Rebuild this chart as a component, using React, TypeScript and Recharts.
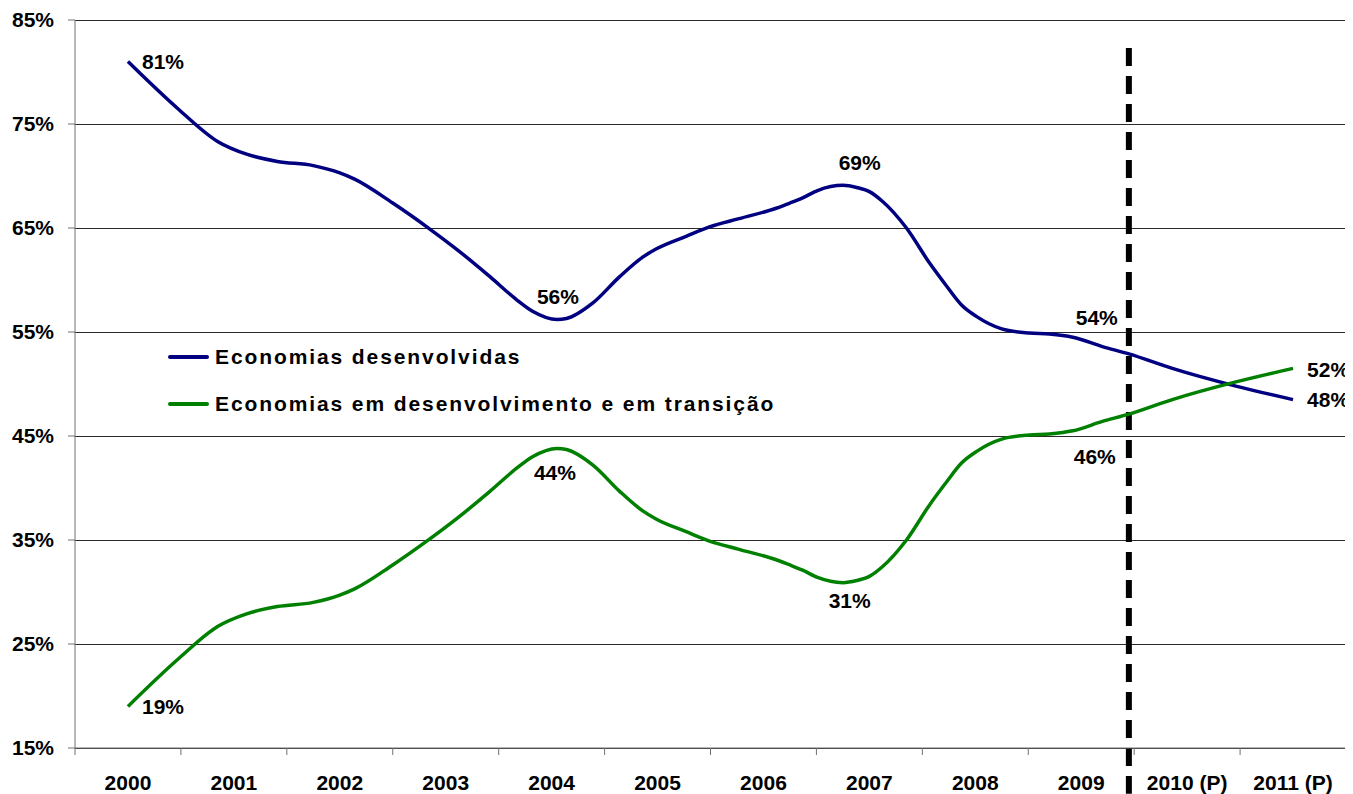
import React from "react";
import {
  LineChart,
  Line,
  XAxis,
  YAxis,
  CartesianGrid,
  ReferenceLine,
  Legend,
} from "recharts";

// categorias do eixo x
const anos = [
  "2000", "2001", "2002", "2003", "2004", "2005",
  "2006", "2007", "2008", "2009", "2010 (P)", "2011 (P)",
];

// posição de cada ponto no eixo (em anos, 0 = início de 2000)
const posicao = [
  0.5, 0.99, 1.35, 1.62, 1.91, 2.25, 2.5, 2.64, 3.0, 3.35,
  3.61, 3.92, 4.17, 4.32, 4.55, 4.64, 4.89, 5.14, 5.36, 5.49,
  5.77, 5.99, 6.27, 6.62, 6.75, 6.87, 7.01, 7.25, 7.38, 7.5,
  7.62, 7.85, 8.07, 8.23, 8.37, 8.51, 8.75, 9.01, 9.2, 9.42,
  9.7, 9.95, 10.36, 10.96, 11.5,
];

const desenvolvidas = [
  81.0, 76.3, 73.3, 72.1, 71.4, 71.0, 70.3, 69.7, 67.4, 64.9,
  62.9, 60.3, 58.1, 57.0, 56.2, 56.3, 57.8, 60.3, 62.2, 63.0,
  64.2, 65.1, 65.9, 66.9, 67.4, 67.9, 68.6, 69.1, 68.9, 68.5,
  67.6, 65.0, 61.6, 59.4, 57.6, 56.5, 55.3, 54.9, 54.8, 54.5,
  53.6, 52.9, 51.5, 49.8, 48.5,
];

const emDesenvolvimento = [
  19.0, 23.7, 26.7, 27.9, 28.6, 29.0, 29.7, 30.3, 32.6, 35.1,
  37.1, 39.7, 41.9, 43.0, 43.8, 43.7, 42.2, 39.7, 37.8, 37.0,
  35.8, 34.9, 34.1, 33.1, 32.6, 32.1, 31.4, 30.9, 31.1, 31.5,
  32.4, 35.0, 38.4, 40.6, 42.4, 43.5, 44.7, 45.1, 45.2, 45.5,
  46.4, 47.1, 48.5, 50.2, 51.5,
];

const yTicks = [15, 25, 35, 45, 55, 65, 75, 85];
const xTicks = [0, 1, 2, 3, 4, 5, 6, 7, 8, 9, 10, 11, 12];

// rótulos de dados: índice do ponto, texto e deslocamento
const rotulosDesenv = [
  { i: 0, text: "81%", dx: 14, dy: 0, anchor: "start" },
  { i: 14, text: "56%", dx: 1, dy: -23, anchor: "middle" },
  { i: 28, text: "69%", dx: 3, dy: -25, anchor: "middle" },
  { i: 39, text: "54%", dx: 24, dy: -20, anchor: "middle" },
  { i: 44, text: "48%", dx: 14, dy: 0, anchor: "start" },
];
const rotulosEmDesenv = [
  { i: 0, text: "19%", dx: 14, dy: 0, anchor: "start" },
  { i: 14, text: "44%", dx: -2, dy: 24, anchor: "middle" },
  { i: 28, text: "31%", dx: -7, dy: 20, anchor: "middle" },
  { i: 39, text: "46%", dx: 22, dy: 26, anchor: "middle" },
  { i: 44, text: "52%", dx: 14, dy: 1, anchor: "start" },
];

const data = posicao.map((t, i) => ({
  t,
  dev: desenvolvidas[i],
  emd: emDesenvolvimento[i],
}));

const FONT = '"Liberation Sans", Arial, Helvetica, sans-serif';
const W = 1345;
const H = 786;
const margin = { top: 12, right: 7, bottom: 0, left: 0 };
const Y_AXIS_W = 67;
const band = (W - margin.left - margin.right - Y_AXIS_W) / anos.length;

const YearTick = (props: any) => {
  const { x, y, payload } = props;
  const label = anos[payload.value];
  if (label === undefined) return <g />;
  return (
    <text
      x={x + band / 2}
      y={y}
      dy="0.71em"
      textAnchor="middle"
      fontFamily={FONT}
      fontWeight={700}
      fontSize={21}
      fill="#000"
    >
      {label}
    </text>
  );
};

const labelDot = (rotulos: any[]) => (props: any) => {
  const { cx, cy, index } = props;
  const r = rotulos.find((l) => l.i === index);
  if (!r) return <g key={`d-${index}`} />;
  return (
    <text
      key={`d-${index}`}
      x={cx + r.dx}
      y={cy + r.dy}
      dy="0.36em"
      textAnchor={r.anchor}
      fontFamily={FONT}
      fontWeight={700}
      fontSize={21}
      fill="#000"
    >
      {r.text}
    </text>
  );
};

const renderLegend = (props: any) => {
  const { payload = [] } = props;
  return (
    <div
      style={{
        fontFamily: FONT,
        fontWeight: 700,
        fontSize: 21,
        letterSpacing: 1.9,
        color: "#000",
      }}
    >
      {payload.map((entry: any) => (
        <div
          key={entry.value}
          style={{ display: "flex", alignItems: "center", height: 30, marginBottom: 17 }}
        >
          <span
            style={{
              display: "inline-block",
              width: 41,
              height: 4,
              borderRadius: 2,
              background: entry.color,
              marginRight: 6,
            }}
          />
          <span>{entry.value}</span>
        </div>
      ))}
    </div>
  );
};

export default function App() {
  return (
    <div style={{ width: W, height: H }}>
      <LineChart width={W} height={H} data={data} margin={margin}>
        <CartesianGrid vertical={false} stroke="#2a2a2a" shapeRendering="crispEdges" />
        <XAxis
          dataKey="t"
          type="number"
          domain={[0, 12]}
          ticks={xTicks}
          interval={0}
          tick={<YearTick />}
          tickSize={7}
          tickMargin={20}
          height={46}
          stroke="#707070"
        />
        <YAxis
          domain={[15, 85]}
          ticks={yTicks}
          interval={0}
          width={Y_AXIS_W}
          tickSize={7}
          tickMargin={14}
          tickFormatter={(v) => `${v}%`}
          stroke="#707070"
          tick={{ fontFamily: FONT, fontWeight: 700, fontSize: 21, fill: "#000" }}
        />
        <ReferenceLine x={12} stroke="#a0a0a0" />
        <ReferenceLine
          segment={[
            { x: 9.95, y: 82.3 },
            { x: 9.95, y: 10.6 },
          ]}
          ifOverflow="visible"
          stroke="#000"
          strokeWidth={6}
          strokeDasharray="18 10"
        />
        <Legend
          layout="horizontal"
          verticalAlign="middle"
          align="center"
          content={renderLegend}
          wrapperStyle={{ top: 334, left: 160, width: 700, height: "auto" }}
        />
        <Line
          type="monotone"
          dataKey="dev"
          name="Economias desenvolvidas"
          stroke="#000080"
          strokeWidth={3.5}
          dot={labelDot(rotulosDesenv)}
          activeDot={false}
          isAnimationActive={false}
        />
        <Line
          type="monotone"
          dataKey="emd"
          name="Economias em desenvolvimento e em transição"
          stroke="#008000"
          strokeWidth={3.5}
          dot={labelDot(rotulosEmDesenv)}
          activeDot={false}
          isAnimationActive={false}
        />
      </LineChart>
    </div>
  );
}
